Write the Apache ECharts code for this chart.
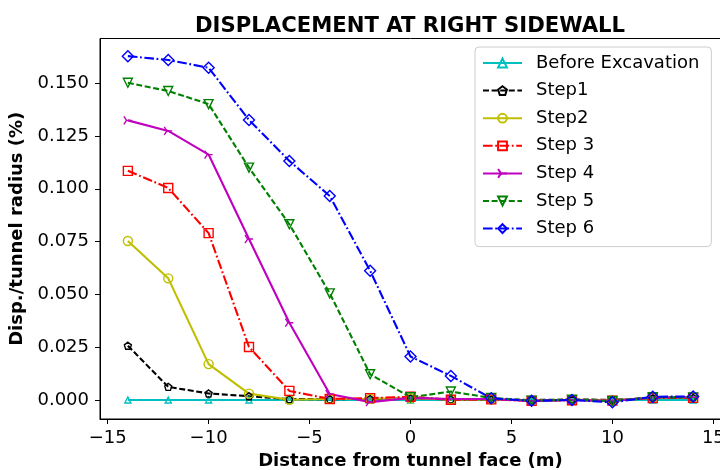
<!DOCTYPE html>
<html>
<head>
<meta charset="utf-8">
<script src="https://cdn.jsdelivr.net/npm/echarts@6/dist/echarts.min.js"></script>
<style>
  html, body { margin: 0; padding: 0; background: #fff; }
  #chart { width: 720px; height: 470px; }
</style>
</head>
<body>
<div id="chart"></div>
<script>
// Distance from tunnel face (m)
const distances = [-14, -12, -10, -8, -6, -4, -2, 0, 2, 4, 6, 8, 10, 12, 14];

// Displacement / tunnel radius (%) for each excavation stage
const beforeExcavation = [0, 0, 0, 0, 0, 0, 0, 0, 0, 0, 0, 0, 0, 0, 0];
const step1 = [0.0257, 0.0062, 0.0031, 0.0018, 0.0004, 0.0004, 0.0005, 0.0008, 0.0003, 0.0003, 0.0000, 0.0002, 0.0001, 0.0009, 0.0010];
const step2 = [0.0753, 0.0576, 0.0170, 0.0030, 0.0001, 0.0005, 0.0006, 0.0008, 0.0003, 0.0003, -0.0002, 0.0001, -0.0002, 0.0010, 0.0011];
const step3 = [0.1085, 0.1004, 0.0790, 0.0251, 0.0043, 0.0005, 0.0009, 0.0015, 0.0001, 0.0003, -0.0004, -0.0001, -0.0003, 0.0009, 0.0010];
const step4 = [0.1324, 0.1274, 0.1162, 0.0762, 0.0366, 0.0028, -0.0010, 0.0010, 0.0005, 0.0005, -0.0005, 0.0000, -0.0004, 0.0012, 0.0013];
const step5 = [0.1502, 0.1463, 0.1401, 0.1100, 0.0832, 0.0505, 0.0122, 0.0013, 0.0040, 0.0010, -0.0003, 0.0001, -0.0005, 0.0013, 0.0012];
const step6 = [0.1628, 0.1610, 0.1573, 0.1326, 0.1132, 0.0966, 0.0612, 0.0206, 0.0114, 0.0008, -0.0004, 0.0000, -0.0011, 0.0015, 0.0017];

// Axis tick labels
const xTicks = [-15, -10, -5, 0, 5, 10, 15];
const yTicks = [0, 0.025, 0.05, 0.075, 0.1, 0.125, 0.15];

const FONT = 'DejaVu Sans';

// Marker shapes drawn as outlines
const PENTAGON = 'path://M5,0L9.76,3.45L7.94,9.05L2.06,9.05L0.24,3.45Z';
const TRI_RIGHT = 'path://M4,5L10,5M4,5L1,0M4,5L1,10';

function pairs(ys) {
  return distances.map((x, i) => [x, ys[i]]);
}

function makeSeries(name, ys, color, dash, symbol, size, rotate) {
  return {
    name: name,
    type: 'line',
    data: pairs(ys),
    symbol: symbol,
    symbolSize: size,
    symbolRotate: rotate || 0,
    showAllSymbol: true,
    animation: false,
    lineStyle: { color: color, width: 2.1, type: dash },
    itemStyle: { color: 'rgba(255,255,255,0)', borderColor: color, borderWidth: 1.4 },
    emphasis: { disabled: true }
  };
}

const DASHED = [6, 2.6];
const DASHDOT = [9.6, 2.6, 1.8, 2.6];

const series = [
  makeSeries('Before Excavation', beforeExcavation, '#00bfbf', 'solid', 'triangle', 6),
  makeSeries('Step1', step1, '#000000', DASHED, PENTAGON, 7),
  makeSeries('Step2', step2, '#bfbf00', 'solid', 'circle', 9),
  makeSeries('Step 3', step3, '#ff0000', DASHDOT, 'rect', 9),
  makeSeries('Step 4', step4, '#bf00bf', 'solid', TRI_RIGHT, 8),
  makeSeries('Step 5', step5, '#008000', DASHED, 'triangle', 9, 180),
  makeSeries('Step 6', step6, '#0000ff', DASHDOT, 'diamond', 11)
];

const chart = echarts.init(document.getElementById('chart'), null, { renderer: 'canvas' });

chart.setOption({
  backgroundColor: '#ffffff',
  animation: false,
  title: {
    text: 'DISPLACEMENT AT RIGHT SIDEWALL',
    left: 405,
    textAlign: 'center',
    top: 11,
    textStyle: { fontFamily: FONT, fontSize: 21.2, fontWeight: 'bold', color: '#000' }
  },
  grid: {
    left: 100,
    top: 38.5,
    width: 621,
    height: 380.5,
    show: true,
    borderColor: '#000',
    borderWidth: 1,
    containLabel: false,
    outerBoundsMode: 'none'
  },
  legend: {
    orient: 'vertical',
    left: 475,
    top: 47,
    padding: [6, 12, 8, 7],
    itemWidth: 39,
    itemHeight: 11,
    itemGap: 7.6,
    selectedMode: false,
    backgroundColor: 'rgba(255,255,255,0.8)',
    borderColor: '#cccccc',
    borderWidth: 1,
    borderRadius: 4,
    textStyle: { fontFamily: FONT, fontSize: 18, color: '#000', lineHeight: 20, padding: [0, 0, 0, 9] },
    data: series.map(s => s.name)
  },
  xAxis: {
    type: 'value',
    min: -15.38,
    max: 15.38,
    name: 'Distance from tunnel face (m)',
    nameLocation: 'middle',
    nameGap: 28,
    nameTextStyle: { fontFamily: FONT, fontSize: 18, fontWeight: 'bold', color: '#000' },
    axisLine: { show: true, onZero: false, lineStyle: { color: '#000', width: 1 } },
    axisTick: { show: true, inside: false, length: 5, customValues: xTicks, lineStyle: { color: '#000' } },
    axisLabel: {
      show: true,
      margin: 10,
      customValues: xTicks,
      fontFamily: FONT,
      fontSize: 18,
      color: '#000',
      formatter: v => String(v).replace('-', '\u2212')
    },
    splitLine: { show: false }
  },
  yAxis: {
    type: 'value',
    min: -0.009,
    max: 0.17116,
    name: 'Disp./tunnel radius (%)',
    nameLocation: 'middle',
    nameGap: 67,
    nameTextStyle: { fontFamily: FONT, fontSize: 18, fontWeight: 'bold', color: '#000' },
    axisLine: { show: true, onZero: false, lineStyle: { color: '#000', width: 1 } },
    axisTick: { show: true, inside: false, length: 5, customValues: yTicks, lineStyle: { color: '#000' } },
    axisLabel: {
      show: true,
      margin: 11,
      customValues: yTicks,
      fontFamily: FONT,
      fontSize: 18,
      color: '#000',
      formatter: v => v.toFixed(3)
    },
    splitLine: { show: false }
  },
  series: series
});
</script>
</body>
</html>
